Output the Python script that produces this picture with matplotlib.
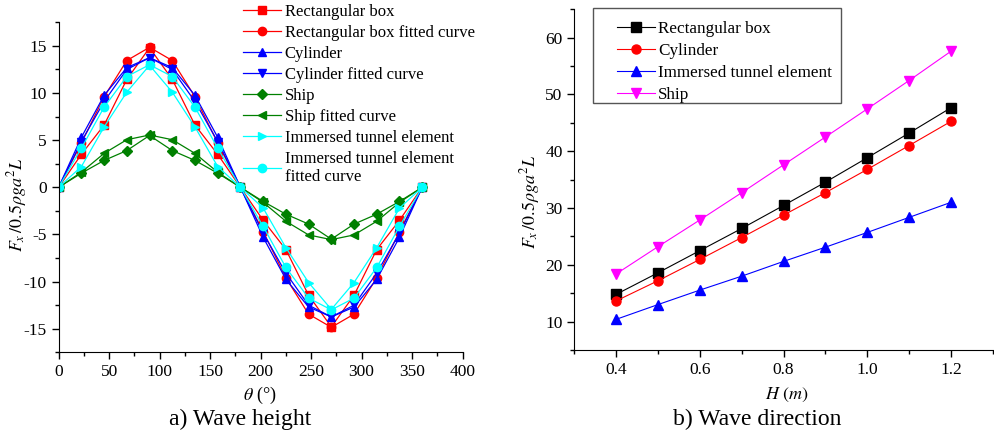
import matplotlib.pyplot as plt
from matplotlib.patches import Rectangle
import numpy as np

plt.rcParams['font.family'] = ['Liberation Serif', 'DejaVu Serif']
plt.rcParams['mathtext.fontset'] = 'stix'
plt.rcParams['axes.unicode_minus'] = False

# panel a) force vs wave angle
theta = [0, 22.5, 45, 67.5, 90, 112.5, 135, 157.5, 180,
         202.5, 225, 247.5, 270, 292.5, 315, 337.5, 360]
box = [0, 3.5, 6.6, 11.45, 14.8, 11.45, 6.6, 3.5, 0,
       -3.5, -6.6, -11.45, -14.8, -11.45, -6.6, -3.5, 0]
box_fit = [0, 4.7, 9.6, 13.45, 14.85, 13.45, 9.6, 4.7, 0,
           -4.7, -9.6, -13.45, -14.85, -13.45, -9.6, -4.7, 0]
cyl = [0, 5.3, 9.75, 12.7, 13.75, 12.7, 9.75, 5.3, 0,
       -5.3, -9.75, -12.7, -13.75, -12.7, -9.75, -5.3, 0]
cyl_fit = [0, 4.85, 9.1, 12.5, 13.75, 12.5, 9.1, 4.85, 0,
           -4.85, -9.1, -12.5, -13.75, -12.5, -9.1, -4.85, 0]
ship = [0, 1.5, 2.85, 3.9, 5.5, 3.9, 2.85, 1.5, 0,
        -1.5, -2.85, -3.9, -5.5, -3.9, -2.85, -1.5, 0]
ship_fit = [0, 1.6, 3.6, 5.05, 5.55, 5.05, 3.6, 1.6, 0,
            -1.6, -3.6, -5.05, -5.55, -5.05, -3.6, -1.6, 0]
tunnel = [0, 2.2, 6.4, 10.1, 12.95, 10.1, 6.4, 2.2, 0,
          -2.2, -6.4, -10.1, -12.95, -10.1, -6.4, -2.2, 0]
tunnel_fit = [0, 4.15, 8.5, 11.75, 13.0, 11.75, 8.5, 4.15, 0,
              -4.15, -8.5, -11.75, -13.0, -11.75, -8.5, -4.15, 0]

# panel b) force vs wave height
H = [0.4, 0.5, 0.6, 0.7, 0.8, 0.9, 1.0, 1.1, 1.2]
box_h = [14.8, 18.6, 22.5, 26.4, 30.45, 34.55, 38.85, 43.2, 47.65]
cyl_h = [13.65, 17.2, 20.95, 24.8, 28.75, 32.7, 36.8, 41.0, 45.25]
tunnel_h = [10.4, 13.0, 15.55, 18.0, 20.6, 23.1, 25.7, 28.35, 31.0]
ship_h = [18.4, 23.2, 27.9, 32.7, 37.6, 42.5, 47.45, 52.45, 57.6]

fig = plt.figure(figsize=(9.94, 4.33), dpi=100)
ax1 = fig.add_axes([0.059, 0.1864, 0.4064, 0.762])
ax2 = fig.add_axes([0.5778, 0.1917, 0.4209, 0.7868])

green = '#008000'
kw = dict(lw=0.9, ms=6)
ax1.plot(theta, box, color='red', marker='s', label='Rectangular box', **kw)
ax1.plot(theta, box_fit, color='red', marker='o', label='Rectangular box fitted curve', **kw)
ax1.plot(theta, cyl, color='blue', marker='^', label='Cylinder', **kw)
ax1.plot(theta, cyl_fit, color='blue', marker='v', label='Cylinder fitted curve', **kw)
ax1.plot(theta, ship, color=green, marker='D', label='Ship', lw=0.9, ms=5)
ax1.plot(theta, ship_fit, color=green, marker='<', label='Ship fitted curve', **kw)
ax1.plot(theta, tunnel, color='cyan', marker='>', label='Immersed tunnel element', **kw)
ax1.plot(theta, tunnel_fit, color='cyan', marker='o',
         label='Immersed tunnel element\nfitted curve', **kw)

ax1.set_xlim(0, 400)
ax1.set_ylim(-17.5, 17.5)
ax1.set_xticks(np.arange(0, 401, 50))
ax1.set_xticks(np.arange(25, 400, 50), minor=True)
ax1.set_yticks(np.arange(-15, 16, 5))
ax1.set_yticks(np.arange(-17.5, 17.6, 5), minor=True)

kw2 = dict(lw=0.8, ms=6.5)
ax2.plot(H, box_h, color='black', marker='s', label='Rectangular box', **kw2)
ax2.plot(H, cyl_h, color='red', marker='o', label='Cylinder', **kw2)
ax2.plot(H, tunnel_h, color='blue', marker='^', label='Immersed tunnel element', **kw2)
ax2.plot(H, ship_h, color='magenta', marker='v', label='Ship', **kw2)

ax2.set_xlim(0.3, 1.3)
ax2.set_ylim(5, 65)
ax2.set_xticks([0.4, 0.6, 0.8, 1.0, 1.2])
ax2.set_xticklabels(['0.4', '0.6', '0.8', '1.0', '1.2'])
ax2.set_xticks([0.3, 0.5, 0.7, 0.9, 1.1, 1.3], minor=True)
ax2.set_yticks([10, 20, 30, 40, 50, 60])
ax2.set_yticks([5, 15, 25, 35, 45, 55, 65], minor=True)

for ax in (ax1, ax2):
    ax.spines['top'].set_visible(False)
    ax.spines['right'].set_visible(False)
    ax.tick_params(which='major', direction='out', length=5, width=1, labelsize=12.5)
    ax.tick_params(which='minor', direction='out', length=3, width=1)

ax1.legend(loc='upper left', bbox_to_anchor=(243 / 994, 1 - 4 / 433), bbox_transform=fig.transFigure,
           frameon=False, fontsize=12, handlelength=2.3, handletextpad=0.2,
           labelspacing=0.3, borderpad=0, borderaxespad=0)
ax2.legend(loc='upper left', bbox_to_anchor=(617 / 994, 1 - 21 / 433),
           bbox_transform=fig.transFigure, frameon=False, fontsize=12.3, handlelength=2.2,
           handletextpad=0.2, labelspacing=0.36, borderpad=0, borderaxespad=0)
fig.patches.append(Rectangle((593.3 / 994, 1 - 103.3 / 433), 247.4 / 994, 95 / 433,
                             transform=fig.transFigure, fill=False, lw=1,
                             edgecolor='#555555', zorder=0))

ylab = r'$F_x\,/0.5\rho g a^2 L$'
fig.text(17 / 994, 1 - 205 / 433, ylab, rotation=90, ha='center', va='center', fontsize=13)
fig.text(530 / 994, 1 - 202 / 433, ylab, rotation=90, ha='center', va='center', fontsize=13)
fig.text(260 / 994, 1 - 395 / 433, r'$\theta$ (°)', ha='center', va='center', fontsize=13)
fig.text(787 / 994, 1 - 395 / 433, r'$H\ (m)$', ha='center', va='center', fontsize=13)
fig.text(240 / 994, 1 - 419 / 433, 'a) Wave height', ha='center', va='center', fontsize=17)
fig.text(757 / 994, 1 - 419 / 433, 'b) Wave direction', ha='center', va='center', fontsize=17)

fig.savefig('out.png', dpi=100)
